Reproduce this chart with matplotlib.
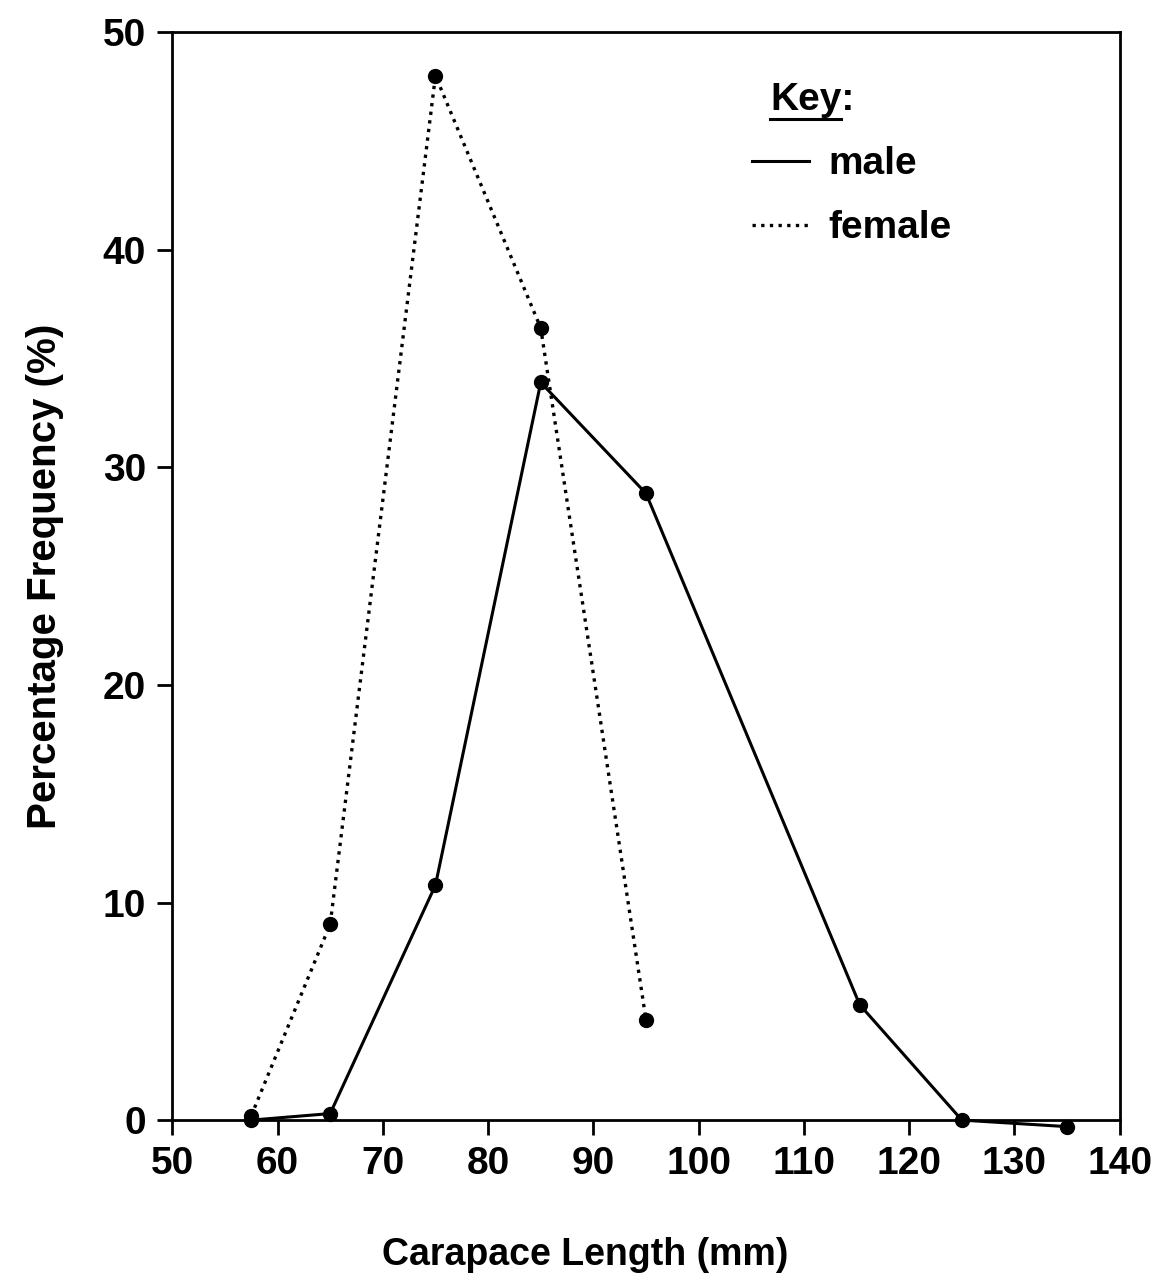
import matplotlib
matplotlib.use("Agg")
import matplotlib.pyplot as plt
from matplotlib.lines import Line2D

plt.rcParams['font.family'] = ['Liberation Sans', 'DejaVu Sans']
plt.rcParams['font.weight'] = 'bold'

# carapace length class midpoints (mm) and percentage frequency
female_len = [57.5, 65, 75, 85, 95]
female_pct = [0.2, 9.0, 48.0, 36.4, 4.6]
male_len = [57.5, 65, 75, 85, 95, 115.3, 125, 135]
male_pct = [0.0, 0.3, 10.8, 33.9, 28.8, 5.3, 0.0, -0.3]

x_ticks = list(range(50, 141, 10))
y_ticks = list(range(0, 51, 10))

fig = plt.figure(figsize=(11.64, 12.86), dpi=100)
ax = fig.add_axes([0.148, 0.129, 0.814, 0.846])

m_line, = ax.plot(male_len, male_pct, color='black', lw=2.2, marker='o',
                  markersize=10, label='male', clip_on=False)
f_line, = ax.plot(female_len, female_pct, color='black', lw=2.4,
                  linestyle=(0, (1, 1.6)), marker='o', markersize=10,
                  label='female', clip_on=False)

ax.set_xlim(50, 140)
ax.set_ylim(0, 50)
ax.set_xticks(x_ticks)
ax.set_yticks(y_ticks)
ax.tick_params(direction='out', length=11, width=2, labelsize=28, pad=8)
for s in ax.spines.values():
    s.set_linewidth(2)

ax.set_xlabel('Carapace Length (mm)', fontsize=27, fontweight='bold')
ax.xaxis.set_label_coords(0.436, -0.107)
ax.set_ylabel('Percentage Frequency (%)', fontsize=29, fontweight='bold', labelpad=28)

# key
ax.text(0.631, 0.9375, 'Key:', transform=ax.transAxes, fontsize=28,
        ha='left', va='center')
leg = ax.legend(handles=[m_line, f_line], labels=['male', 'female'],
                fontsize=28, frameon=False, loc='upper left',
                bbox_to_anchor=(0.612, 0.895), borderaxespad=0, borderpad=0,
                handlelength=1.45, handletextpad=0.5, labelspacing=0.72)
for h in leg.legend_handles:
    h.set_marker('')

# underline "Key"
fig.canvas.draw()
key_txt = [t for t in ax.texts if t.get_text() == 'Key:'][0]
tb = key_txt.get_window_extent()
y = tb.y0 - 1
fig.add_artist(Line2D([tb.x0, tb.x0 + tb.width * 0.84], [y, y], color='black',
                      lw=2.2, transform=None))

fig.savefig('out.png', dpi=100)
